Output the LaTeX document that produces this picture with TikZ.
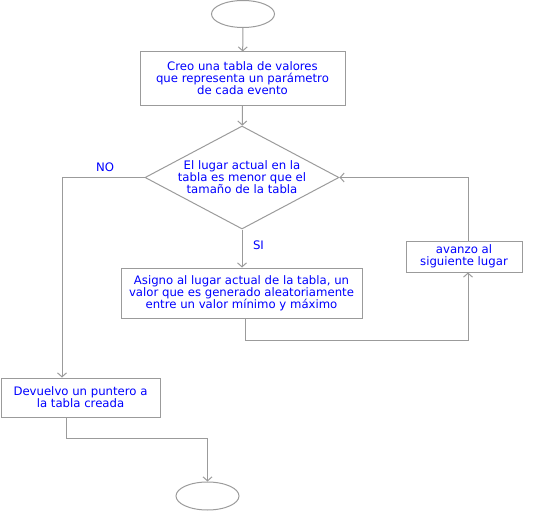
\documentclass[tikz,border=0pt]{standalone}
\usepackage{fontspec}
\setmainfont{DejaVu Sans}
\usetikzlibrary{shapes.geometric,arrows.meta}

\definecolor{linea}{RGB}{155,155,155}
\definecolor{texto}{RGB}{0,0,255}

\tikzset{
	caja/.style={draw=linea, line width=1pt, text=texto, align=center, inner sep=0pt},
	terminal/.style={draw=linea, line width=1pt, ellipse, minimum width=63pt, minimum height=27pt},
	decision/.style={draw=linea, line width=1pt, diamond, aspect=1.9, inner sep=0pt, text=texto, align=center},
	flecha/.style={draw=linea, line width=1pt, -{Straight Barb[length=4pt,width=9pt]}},
	rotulo/.style={text=texto}
}

\begin{document}
\begin{tikzpicture}[x=1pt, y=-1pt, font=\fontsize{11.7}{12}\selectfont]
	\useasboundingbox (0,0) rectangle (541,511);

	\node[terminal] (inicio) at (243,14) {};
	\node[caja, minimum width=205pt, minimum height=53pt] (crear) at (242.5,78.5)
		{Creo una tabla de valores\\que representa un parámetro\\de cada evento};
	\node[decision, minimum width=194pt, minimum height=103pt] (cond) at (242,177.5)
		{El lugar actual en la\\tabla es menor que el\\tamaño de la tabla};
	\node[caja, minimum width=241pt, minimum height=50pt] (asignar) at (241.5,293)
		{Asigno al lugar actual de la tabla, un\\valor que es generado aleatoriamente\\entre un valor mínimo y máximo};
	\node[caja, minimum width=116pt, minimum height=31pt] (avanzar) at (464,256.5)
		{avanzo al\\siguiente lugar};
	\node[caja, minimum width=159pt, minimum height=39pt] (devolver) at (80.5,397.5)
		{Devuelvo un puntero a\\la tabla creada};
	\node[terminal, minimum height=28pt] (fin) at (207.5,496) {};

	\node[rotulo] (no) at (105,167.5) {NO};
	\node[rotulo] (si) at (258.5,245) {SI};

	\coordinate (avanzarS) at ([xshift=4pt]avanzar.south);
	\coordinate (avanzarN) at ([xshift=4pt]avanzar.north);
	\coordinate (devolverN) at ([xshift=-18.5pt]devolver.north);
	\coordinate (devolverS) at ([xshift=-14.5pt]devolver.south);
	\coordinate (asignarS) at ([xshift=3.5pt]asignar.south);

	\draw[flecha] (inicio) -- (crear);
	\draw[flecha] (crear) -- (cond);
	\draw[flecha] (cond.south) -- (cond.south |- asignar.north);
	\draw[flecha] (asignarS) -- ++(0,22) -| (avanzarS);
	\draw[flecha] (avanzarN) |- (cond.east);
	\draw[flecha] (cond.west) -| (devolverN);
	\draw[flecha] (devolverS) -- ++(0,21) -| (fin.north);
\end{tikzpicture}
\end{document}
